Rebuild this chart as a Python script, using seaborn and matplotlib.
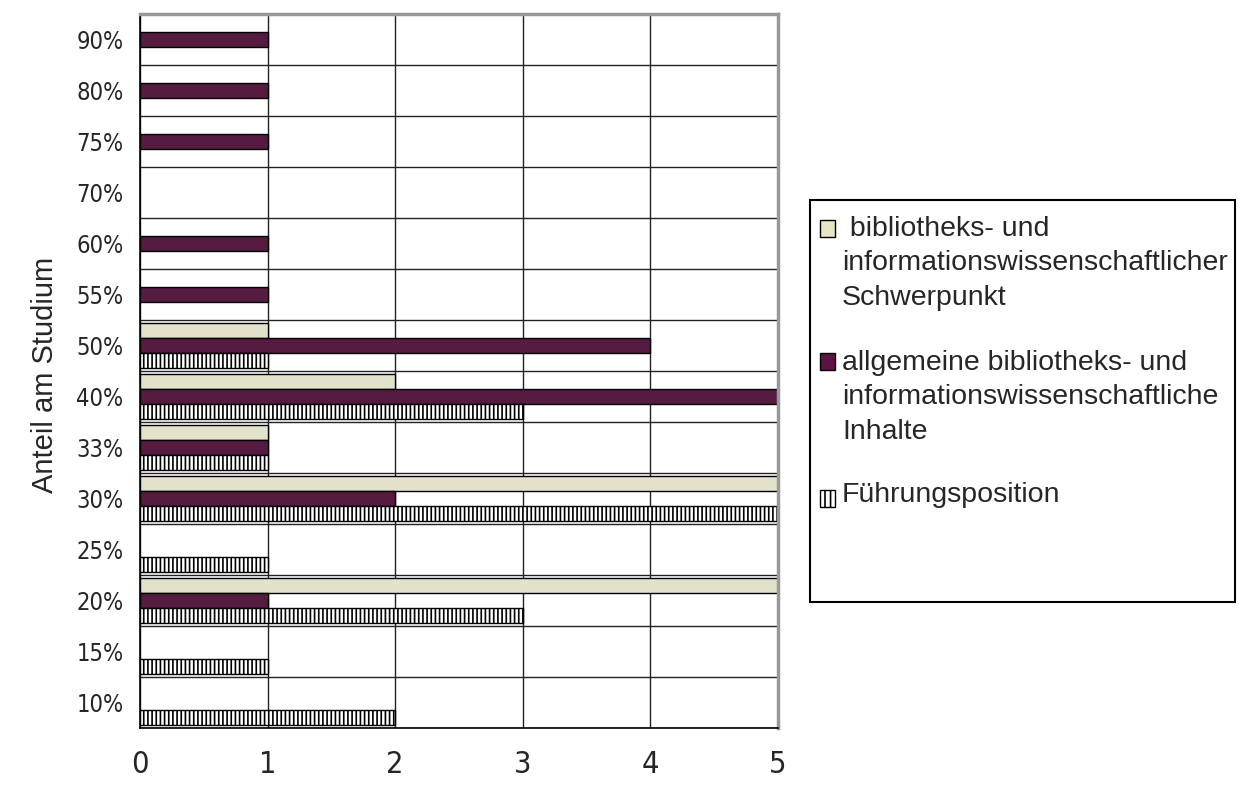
import matplotlib
matplotlib.use("Agg")
import matplotlib.pyplot as plt
import seaborn as sns
import pandas as pd
import numpy as np
from matplotlib.patches import Rectangle

# Anteil am Studium (von oben nach unten)
anteil = ["90%", "80%", "75%", "70%", "60%", "55%", "50%", "40%",
          "33%", "30%", "25%", "20%", "15%", "10%"]
schwerpunkt = [0, 0, 0, 0, 0, 0, 1, 2, 1, 5, 0, 5, 0, 0]
inhalte = [1, 1, 1, 0, 1, 1, 4, 5, 1, 2, 0, 1, 0, 0]
fuehrung = [0, 0, 0, 0, 0, 0, 1, 3, 1, 5, 1, 3, 1, 2]

serien = [
    " bibliotheks- und\ninformationswissenschaftlicher\nSchwerpunkt",
    "allgemeine bibliotheks- und\ninformationswissenschaftliche\nInhalte",
    "Führungsposition",
]
farben = ["#e6e6c6", "#5e1242", "#ffffff"]
x_ticks = [0, 1, 2, 3, 4, 5]

rows = []
for s, werte in zip(serien, [schwerpunkt, inhalte, fuehrung]):
    for a, w in zip(anteil, werte):
        rows.append({"anteil": a, "anzahl": w, "serie": s})
df = pd.DataFrame(rows)
df = df[df["anzahl"] > 0]

sns.set_style("white")
plt.rcParams["font.family"] = ["Liberation Sans", "DejaVu Sans"]
plt.rcParams["hatch.linewidth"] = 1.2

fig = plt.figure(figsize=(12.39, 7.85), dpi=100)
ax = fig.add_axes([140 / 1239, 57 / 785, 638 / 1239, 714 / 785])

sns.barplot(data=df, y="anteil", x="anzahl", hue="serie", order=anteil,
            hue_order=serien, palette=farben, orient="h", width=0.9,
            edgecolor="black", linewidth=1, legend=False, ax=ax)

# Schraffur für Führungsposition
for bar in ax.containers[2]:
    bar.set_hatch("||||")
    bar.set_facecolor("white")

ax.set_xlim(0, 5)
ax.set_xticks(x_ticks)
ax.set_yticks(np.arange(len(anteil)) + 0.5, minor=True)
ax.grid(which="minor", axis="y", color="#222222", lw=1)
ax.grid(which="major", axis="x", color="#222222", lw=1)
ax.set_axisbelow(True)

ax.tick_params(axis="y", which="major", length=0, pad=12)
ax.tick_params(axis="y", which="minor", length=5, width=1, color="#333333")
ax.tick_params(axis="x", which="major", length=6, width=1, pad=10)
for lab in ax.get_yticklabels():
    lab.set_family("DejaVu Sans")
    lab.set_fontstretch("condensed")
    lab.set_fontsize(17)
for lab in ax.get_xticklabels():
    lab.set_family("DejaVu Sans")
    lab.set_fontstretch("condensed")
    lab.set_fontsize(22)

ax.set_xlabel("")
ax.set_ylabel("")
for side in ["left", "bottom"]:
    ax.spines[side].set_color("black")
    ax.spines[side].set_linewidth(1.2)
for side in ["top", "right"]:
    ax.spines[side].set_color("#999999")
    ax.spines[side].set_linewidth(2.5)

fig.text(45 / 1239, 0.522, "Anteil am Studium", rotation=90, fontsize=21,
         ha="center", va="center")

# Legende: Rahmen, Kästchen und Text
W, H = 1239, 785
fig.patches.append(Rectangle((810 / W, 183 / H), 425 / W, 402 / H,
                             transform=fig.transFigure, facecolor="white",
                             edgecolor="black", linewidth=1.5))
text_top = [216, 350, 482]
box_top = [220, 353, 490]
for i, s in enumerate(serien):
    fig.patches.append(Rectangle((820 / W, (H - box_top[i] - 17) / H),
                                 15 / W, 17 / H, transform=fig.transFigure,
                                 facecolor=farben[i], edgecolor="black",
                                 linewidth=1, hatch="|||" if i == 2 else None))
    fig.text(842 / W, (H - text_top[i]) / H, s, fontsize=20.5, ha="left",
             va="top", linespacing=1.42)

fig.savefig("out.png", dpi=100)
